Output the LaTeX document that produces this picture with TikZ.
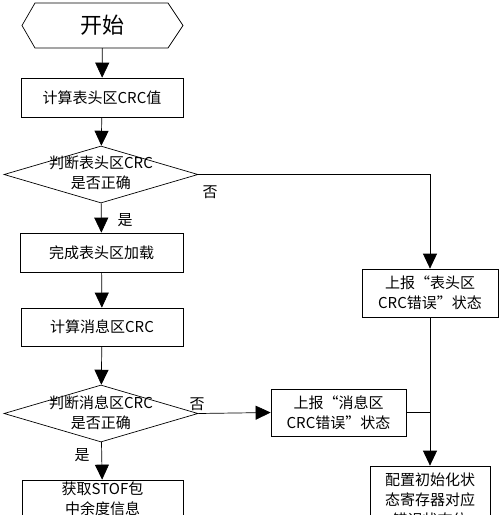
\documentclass[tikz,border=0pt]{standalone}
\usepackage{fontspec}
\setmainfont{Noto Sans CJK SC}
\usetikzlibrary{shapes.geometric,arrows.meta}
\begin{document}
\begin{tikzpicture}[x=1pt,y=-1pt,
  box/.style={draw, line width=0.7pt, inner sep=0, align=center, font=\fontsize{15}{20}\selectfont},
  dia/.style={draw, diamond, line width=0.7pt, inner sep=0},
  txt/.style={align=center, font=\fontsize{15}{20}\selectfont, inner sep=0},
  arr/.style={line width=0.7pt, -{Triangle[length=15pt,width=14pt]}},
  ln/.style={line width=0.7pt},
  lab/.style={font=\fontsize{15}{18}\selectfont, inner sep=0}]
\useasboundingbox (0,0) rectangle (500,515);
% start hexagon
\draw[ln] (22,25.5) -- (35,3) -- (168,3) -- (183,25.5) -- (168,48) -- (35,48) -- cycle;
\node[minimum width=161pt, minimum height=45pt, inner sep=0, font=\fontsize{22}{22}\selectfont] (start) at (102.5,25.5) {开始};
% left column
\node[box, minimum width=162pt, minimum height=39pt] (b1) at (102,97.5) {计算表头区CRC值};
\node[dia, minimum width=194pt, minimum height=57pt] (d1) at (101,174.5) {};
\node[txt] (d1t) at (101,173) {判断表头区CRC\\是否正确};
\node[box, minimum width=163pt, minimum height=39pt] (b2) at (101.5,252.5) {完成表头区加载};
\node[box, minimum width=162pt, minimum height=38pt] (b3) at (102,327) {计算消息区CRC};
\node[dia, minimum width=194pt, minimum height=57pt] (d2) at (101,413.5) {};
\node[txt] (d2t) at (101,413) {判断消息区CRC\\是否正确};
\node[box, minimum width=161pt, minimum height=38pt] (b4) at (102.5,499) {获取STOF包\\中余度信息};
% right column
\node[box, minimum width=136pt, minimum height=48pt] (e1) at (430,293) {上报“表头区\\CRC错误”状态};
\node[box, minimum width=135pt, minimum height=47pt] (e2) at (338.5,412.5) {上报“消息区\\CRC错误”状态};
\node[box, minimum width=120pt, minimum height=68pt] (b5) at (430,500) {配置初始化状\\态寄存器对应\\错误状态位};
% connectors
\draw[arr] (start) -- (b1);
\draw[arr] (b1) -- (d1);
\draw[arr] (d1) -- (b2);
\draw[arr] (b2) -- (b3);
\draw[arr] (b3) -- (d2);
\draw[arr] (d2) -- (b4);
\draw[arr] (d1.east) -| (e1.north);
\draw[arr] (d2.east) -- (e2.west);
\draw[ln] (e2.east) -- (e2.east -| e1.south);
\draw[arr] (e1.south) -- (b5.north);
% labels
\node[lab] (n1) at (210,192) {否};
\node[lab] (y1) at (125,220) {是};
\node[lab] (n2) at (197,404) {否};
\node[lab] (y2) at (82,455) {是};
\end{tikzpicture}
\end{document}
